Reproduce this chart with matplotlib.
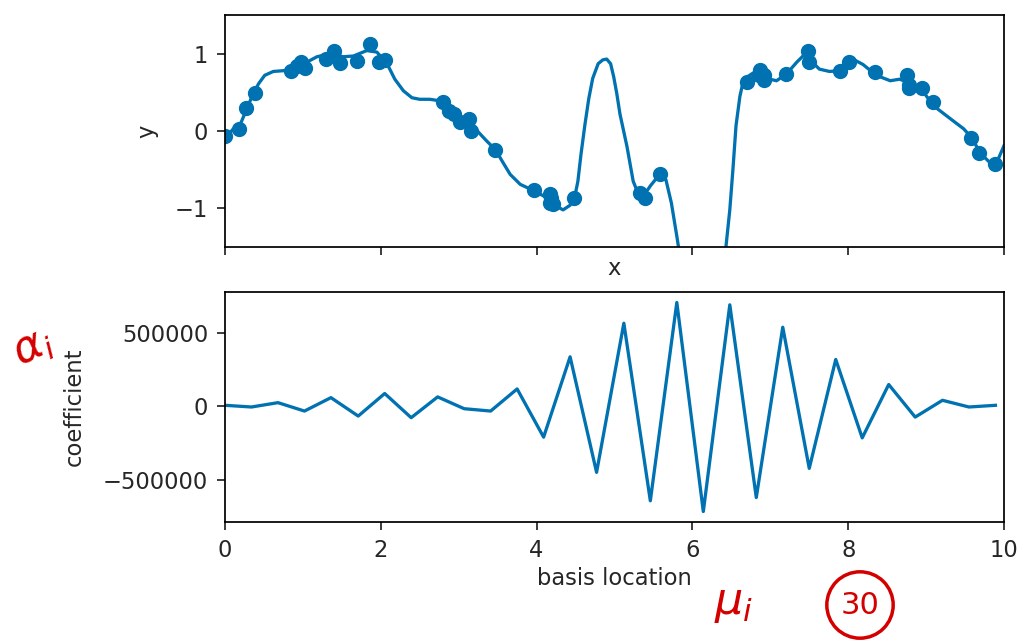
import numpy as np
import matplotlib
matplotlib.use("Agg")
import matplotlib.pyplot as plt

# sample points (top panel)
x_data = [0.00, 0.18, 0.27, 0.39, 0.85, 0.92, 0.98, 1.03, 1.30, 1.40,
          1.47, 1.70, 1.86, 1.98, 2.05, 2.80, 2.88, 2.94, 3.02, 3.13,
          3.16, 3.46, 3.97, 4.17, 4.17, 4.19, 4.21, 4.48, 5.33, 5.39,
          5.59, 6.70, 6.85, 6.87, 6.92, 6.92, 7.20, 7.48, 7.50, 7.89,
          8.01, 8.35, 8.76, 8.78, 8.78, 8.95, 9.09, 9.58, 9.68, 9.89]
y_data = [-0.07, 0.03, 0.30, 0.49, 0.77, 0.84, 0.89, 0.81, 0.93, 1.04,
          0.88, 0.91, 1.13, 0.89, 0.92, 0.37, 0.26, 0.22, 0.11, 0.16,
          0.00, -0.24, -0.76, -0.82, -0.93, -0.87, -0.95, -0.87, -0.80, -0.87,
          -0.56, 0.63, 0.72, 0.79, 0.73, 0.66, 0.74, 1.04, 0.89, 0.78,
          0.89, 0.76, 0.73, 0.55, 0.60, 0.55, 0.37, -0.09, -0.28, -0.43]

# fitted curve
fit_x = [0.00, 0.10, 0.19, 0.26, 0.34, 0.43, 0.51, 0.62, 0.75, 0.88,
         1.05, 1.18, 1.35, 1.52, 1.65, 1.82, 1.95, 2.08, 2.18, 2.29,
         2.40, 2.50, 2.63, 2.76, 2.85, 2.94, 3.05, 3.15, 3.23, 3.36,
         3.47, 3.57, 3.66, 3.79, 3.96, 4.09, 4.21, 4.34, 4.43, 4.49,
         4.53, 4.57, 4.62, 4.67, 4.72, 4.79, 4.85, 4.90, 4.95, 4.99,
         5.03, 5.07, 5.16, 5.24, 5.30, 5.36, 5.46, 5.58, 5.66, 5.73,
         5.80, 5.86, 5.95, 6.05, 6.15, 6.25, 6.35, 6.42, 6.48, 6.52,
         6.56, 6.61, 6.65, 6.72, 6.78, 6.87, 6.95, 7.08, 7.21, 7.34,
         7.45, 7.55, 7.63, 7.76, 7.89, 8.06, 8.19, 8.36, 8.54, 8.66,
         8.79, 8.97, 9.09, 9.31, 9.48, 9.59, 9.69, 9.82, 9.91, 10.0]
fit_y = [-0.10, 0.02, 0.07, 0.24, 0.43, 0.61, 0.72, 0.77, 0.78, 0.81,
         0.89, 0.96, 1.00, 0.96, 0.97, 1.04, 1.02, 0.87, 0.67, 0.52,
         0.43, 0.41, 0.41, 0.39, 0.31, 0.22, 0.12, 0.05, 0.01, -0.13,
         -0.24, -0.41, -0.56, -0.69, -0.77, -0.84, -0.95, -1.02, -0.96, -0.85,
         -0.65, -0.30, 0.08, 0.42, 0.68, 0.87, 0.92, 0.93, 0.87, 0.70,
         0.48, 0.22, -0.20, -0.65, -0.80, -0.86, -0.71, -0.56, -0.63, -0.93,
         -1.36, -1.75, -2.30, -2.70, -2.80, -2.60, -2.10, -1.60, -1.02, -0.50,
         0.07, 0.45, 0.63, 0.71, 0.75, 0.79, 0.68, 0.65, 0.74, 0.89,
         1.00, 0.88, 0.80, 0.77, 0.78, 0.93, 0.86, 0.72, 0.65, 0.67,
         0.62, 0.50, 0.33, 0.16, 0.03, -0.09, -0.28, -0.41, -0.40, -0.19]

# basis centres and coefficients (bottom panel)
centers = [0.00, 0.34, 0.68, 1.02, 1.36, 1.71, 2.05, 2.39, 2.73, 3.07,
           3.41, 3.75, 4.09, 4.43, 4.77, 5.12, 5.46, 5.80, 6.14, 6.48,
           6.82, 7.16, 7.50, 7.84, 8.18, 8.52, 8.86, 9.21, 9.55, 9.89]
coefs = [7000, -4500, 25000, -32000, 59000, -66000, 87000, -77000, 64000, -16000,
         -32000, 118000, -209000, 336000, -448000, 564000, -641000, 705000, -714000, 689000,
         -619000, 537000, -421000, 318000, -214000, 148000, -73000, 41000, -4500, 7000]

blue = '#0072B2'
red = '#d40000'
s = 1.57  # scale of the original rendering

plt.rcParams['font.size'] = 16.3
plt.rcParams['axes.linewidth'] = 0.8 * s
for a in ['xtick', 'ytick']:
    plt.rcParams[a + '.major.size'] = 3.5 * s
    plt.rcParams[a + '.major.width'] = 0.8 * s
    plt.rcParams[a + '.major.pad'] = 3.5 * s + 1
plt.rcParams['axes.labelpad'] = 4.0 * s + 6
plt.rcParams['text.color'] = '#262626'
plt.rcParams['axes.labelcolor'] = '#262626'
plt.rcParams['xtick.color'] = '#262626'
plt.rcParams['ytick.color'] = '#262626'

fig = plt.figure(figsize=(10.17, 6.4), dpi=100)
W, H = 1017, 640
ax0 = fig.add_axes([225 / W, 1 - 247 / H, 779 / W, 232 / H])
ax1 = fig.add_axes([225 / W, 1 - 522 / H, 779 / W, 230 / H], sharex=ax0)

ax0.scatter(x_data, y_data, s=(6 * s) ** 2, color=blue, linewidths=1.0 * s)
ax0.plot(fit_x, fit_y, color=blue, lw=1.5 * s)
ax0.set(ylim=(-1.5, 1.5))
ax0.set_xlabel('x', labelpad=2)
ax0.set_ylabel('y')
ax0.tick_params(labelbottom=False)

ax1.plot(centers, coefs, color=blue, lw=1.5 * s)
ax1.set(xlabel='basis location', ylabel='coefficient', xlim=(0, 10))
ax1.xaxis.labelpad = 4

# handwritten notes
fig.text(6 / W, 1 - 366 / H, r'$\alpha_i$', color=red, fontsize=32, rotation=25)
fig.text(714 / W, 1 - 614 / H, r'$\mu_i$', color=red, fontsize=32)
fig.text(860 / W, 1 - 605 / H, '30', color=red, fontsize=22, ha='center', va='center',
         bbox=dict(boxstyle='circle,pad=0.45', fc='none', ec=red, lw=2.5))

fig.savefig('out.png', dpi=100)
